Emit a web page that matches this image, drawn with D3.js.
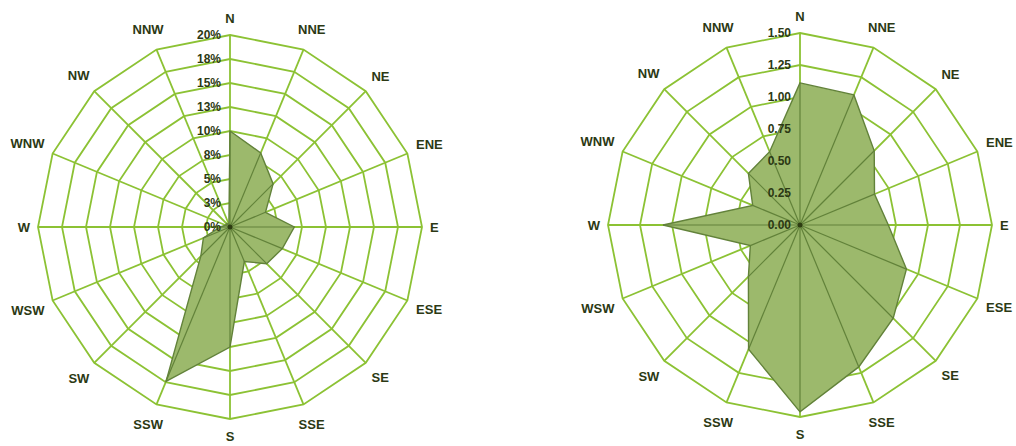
<!DOCTYPE html>
<html>
<head>
<meta charset="utf-8">
<script src="https://cdn.jsdelivr.net/npm/d3@7"></script>
<style>
  body { margin: 0; background: #fff; }
  svg text { font-family: "Liberation Sans", Arial, sans-serif; font-weight: bold; fill: #2c3914; }
</style>
</head>
<body>
<script>
// wind directions, clockwise from north
const directions = ['N', 'NNE', 'NE', 'ENE', 'E', 'ESE', 'SE', 'SSE', 'S', 'SSW', 'SW', 'WSW', 'W', 'WNW', 'NW', 'NNW']

// left rose: frequency in percent
const freqPct = [10.0, 8.35, 6.35, 4.0, 6.7, 5.9, 5.4, 3.9, 12.5, 17.4, 4.3, 3.0, 1.0, 0.5, 0.5, 0.3]
const pctTicks = [0, 2.5, 5, 7.5, 10, 12.5, 15, 17.5, 20]
const pctTickLabels = ['0%', '3%', '5%', '8%', '10%', '13%', '15%', '18%', '20%']

// right rose: mean value per direction
const speedVals = [1.11, 1.10, 0.82, 0.63, 0.69, 0.90, 1.03, 1.20, 1.46, 1.05, 0.57, 0.42, 1.07, 0.40, 0.57, 0.62]
const speedTicks = [0, 0.25, 0.5, 0.75, 1.0, 1.25, 1.5]
const speedTickLabels = ['0.00', '0.25', '0.50', '0.75', '1.00', '1.25', '1.50']

const w = 1016
const h = 446
const R = 192

const gridColor = '#8cc234'
const fillColor = '#9cb96c'
const edgeColor = '#62823a'

const svg = d3.select('body')
    .append('svg')
    .attr('width', w)
    .attr('height', h)

function drawRose(cx, cy, values, ticks, tickLabels) {
    const maxV = ticks[ticks.length - 1]
    const r = d3.scaleLinear().domain([0, maxV]).range([0, R])
    const angle = d3.scalePoint().domain(directions).range([0, 2 * Math.PI * 15 / 16])

    const g = svg.append('g').attr('transform', `translate(${cx},${cy})`)

    // polygon rings
    const ring = d3.lineRadial()
        .angle(d => angle(d))
        .curve(d3.curveLinearClosed)

    g.selectAll('.ring')
        .data(ticks.slice(1))
        .enter()
        .append('path')
        .attr('class', 'ring')
        .attr('d', t => ring.radius(r(t))(directions))
        .style('fill', 'none')
        .style('stroke', gridColor)
        .style('stroke-width', 1.8)

    // spokes
    g.selectAll('.spoke')
        .data(directions)
        .enter()
        .append('line')
        .attr('class', 'spoke')
        .attr('x2', d => R * Math.sin(angle(d)))
        .attr('y2', d => -R * Math.cos(angle(d)))
        .style('stroke', gridColor)
        .style('stroke-width', 1.8)

    // data polygon
    const area = d3.lineRadial()
        .angle((d, i) => angle(directions[i]))
        .radius(d => r(d))
        .curve(d3.curveLinearClosed)

    g.append('path')
        .attr('d', area(values))
        .style('fill', fillColor)
        .style('stroke', edgeColor)
        .style('stroke-width', 1.4)

    // dark spokes inside the filled area
    g.selectAll('.inner')
        .data(values)
        .enter()
        .append('line')
        .attr('class', 'inner')
        .attr('x2', (d, i) => r(d) * Math.sin(angle(directions[i])))
        .attr('y2', (d, i) => -r(d) * Math.cos(angle(directions[i])))
        .style('stroke', edgeColor)
        .style('stroke-width', 1.2)

    g.append('circle')
        .attr('r', 2.5)
        .style('fill', '#2e3d12')

    // radial tick labels
    g.selectAll('.tick')
        .data(ticks)
        .enter()
        .append('text')
        .attr('class', 'tick')
        .attr('x', -9)
        .attr('y', t => -r(t))
        .attr('dy', '0.35em')
        .attr('text-anchor', 'end')
        .style('font-size', '12px')
        .text((t, i) => tickLabels[i])

    // direction labels
    g.selectAll('.dir')
        .data(directions)
        .enter()
        .append('text')
        .attr('class', 'dir')
        .style('font-size', '13px')
        .attr('text-anchor', 'middle')
        .attr('dy', '0.36em')
        .text(d => d)
        .each(function (d) {
            const a = angle(d)
            const hw = this.getComputedTextLength() / 2
            const rl = R + 8 + hw * Math.abs(Math.sin(a)) + 9 * Math.abs(Math.cos(a))
            d3.select(this)
                .attr('x', rl * Math.sin(a))
                .attr('y', -rl * Math.cos(a))
        })
}

drawRose(230, 227, freqPct, pctTicks, pctTickLabels)
drawRose(800, 225, speedVals, speedTicks, speedTickLabels)
</script>
</body>
</html>
